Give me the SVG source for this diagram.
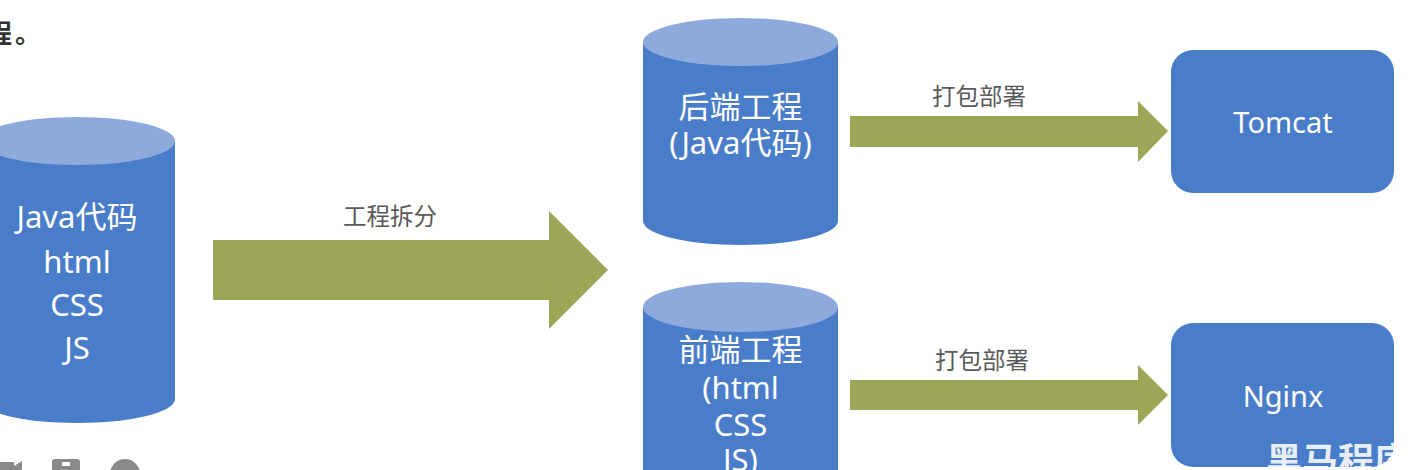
<svg xmlns="http://www.w3.org/2000/svg" width="1414" height="470" viewBox="0 0 1414 470">
<style>
.body{fill:#4a7dc9}
.top{fill:#8eaadd}
.arrow{fill:#9da557}
.in{fill:#ffffff;font-family:"Noto Sans","Noto Sans CJK SC",sans-serif;font-size:31px;text-anchor:middle}
.srv{fill:#ffffff;font-family:"Noto Sans",sans-serif;font-size:29px;text-anchor:middle}
.lbl{fill:#595959;font-family:"Noto Sans CJK SC","Noto Sans",sans-serif;font-size:23.5px;text-anchor:middle}
.ico{fill:#8a8a8a}
</style>
<rect width="1414" height="470" fill="#ffffff"/>
<text x="-14" y="43" font-family="Noto Sans CJK SC, sans-serif" font-size="26" font-weight="bold" fill="#333333">程<tspan dx="3">。</tspan></text>

<g id="source">
<path class="body" d="M -21 141 L -21 399 A 98 24 0 0 0 175 399 L 175 141 Z"/>
<ellipse class="top" cx="77" cy="141" rx="98" ry="24"/>
<text class="in" x="77" y="228">Java代码</text>
<text class="in" x="77" y="273">html</text>
<text class="in" x="77" y="316">CSS</text>
<text class="in" x="77" y="359">JS</text>
</g>

<g id="backend">
<path class="body" d="M 643 42 L 643 221 A 97.5 24 0 0 0 838 221 L 838 42 Z"/>
<ellipse class="top" cx="740.5" cy="42" rx="97.5" ry="24"/>
<text class="in" x="740.5" y="118">后端工程</text>
<text class="in" x="740.5" y="154">(Java代码)</text>
</g>

<g id="frontend">
<path class="body" d="M 643 307 L 643 540 A 97.5 25 0 0 0 838 540 L 838 307 Z"/>
<ellipse class="top" cx="740.5" cy="307" rx="97.5" ry="25"/>
<text class="in" x="740.5" y="361">前端工程</text>
<text class="in" x="740.5" y="399">(html</text>
<text class="in" x="740.5" y="436">CSS</text>
<text class="in" x="740.5" y="471">JS)</text>
</g>

<g id="tomcat">
<rect class="body" x="1171" y="50" width="223" height="143" rx="22"/>
<text class="srv" x="1283" y="133">Tomcat</text>
</g>

<g id="nginx">
<rect class="body" x="1171" y="323" width="223" height="144" rx="22"/>
<text class="srv" x="1283" y="407">Nginx</text>
</g>

<g id="connectors">
<polygon class="arrow" points="213,240 549,240 549,211 608,270 549,329 549,300 213,300"/>
<text class="lbl" x="390" y="225">工程拆分</text>
<polygon class="arrow" points="850,116 1138,116 1138,101 1168,131 1138,162 1138,147 850,147"/>
<text class="lbl" x="979" y="105">打包部署</text>
<polygon class="arrow" points="850,380 1138,380 1138,365 1168,395 1138,425 1138,410 850,410"/>
<text class="lbl" x="982" y="369">打包部署</text>
</g>

<g id="player-icons">
<rect class="ico" x="0" y="462" width="14" height="10"/>
<polygon class="ico" points="14,466 22,461 22,472 14,472"/>
<rect class="ico" x="52" y="459" width="28" height="15" rx="3"/>
<rect x="62" y="462" width="8" height="4" fill="#ffffff"/>
<circle class="ico" cx="125" cy="474" r="15"/>
</g>

<text x="1266" y="474" font-family="Noto Sans CJK SC, sans-serif" font-size="36" font-weight="bold" fill="#ffffff" fill-opacity="0.9">黑马程序员</text>
</svg>
